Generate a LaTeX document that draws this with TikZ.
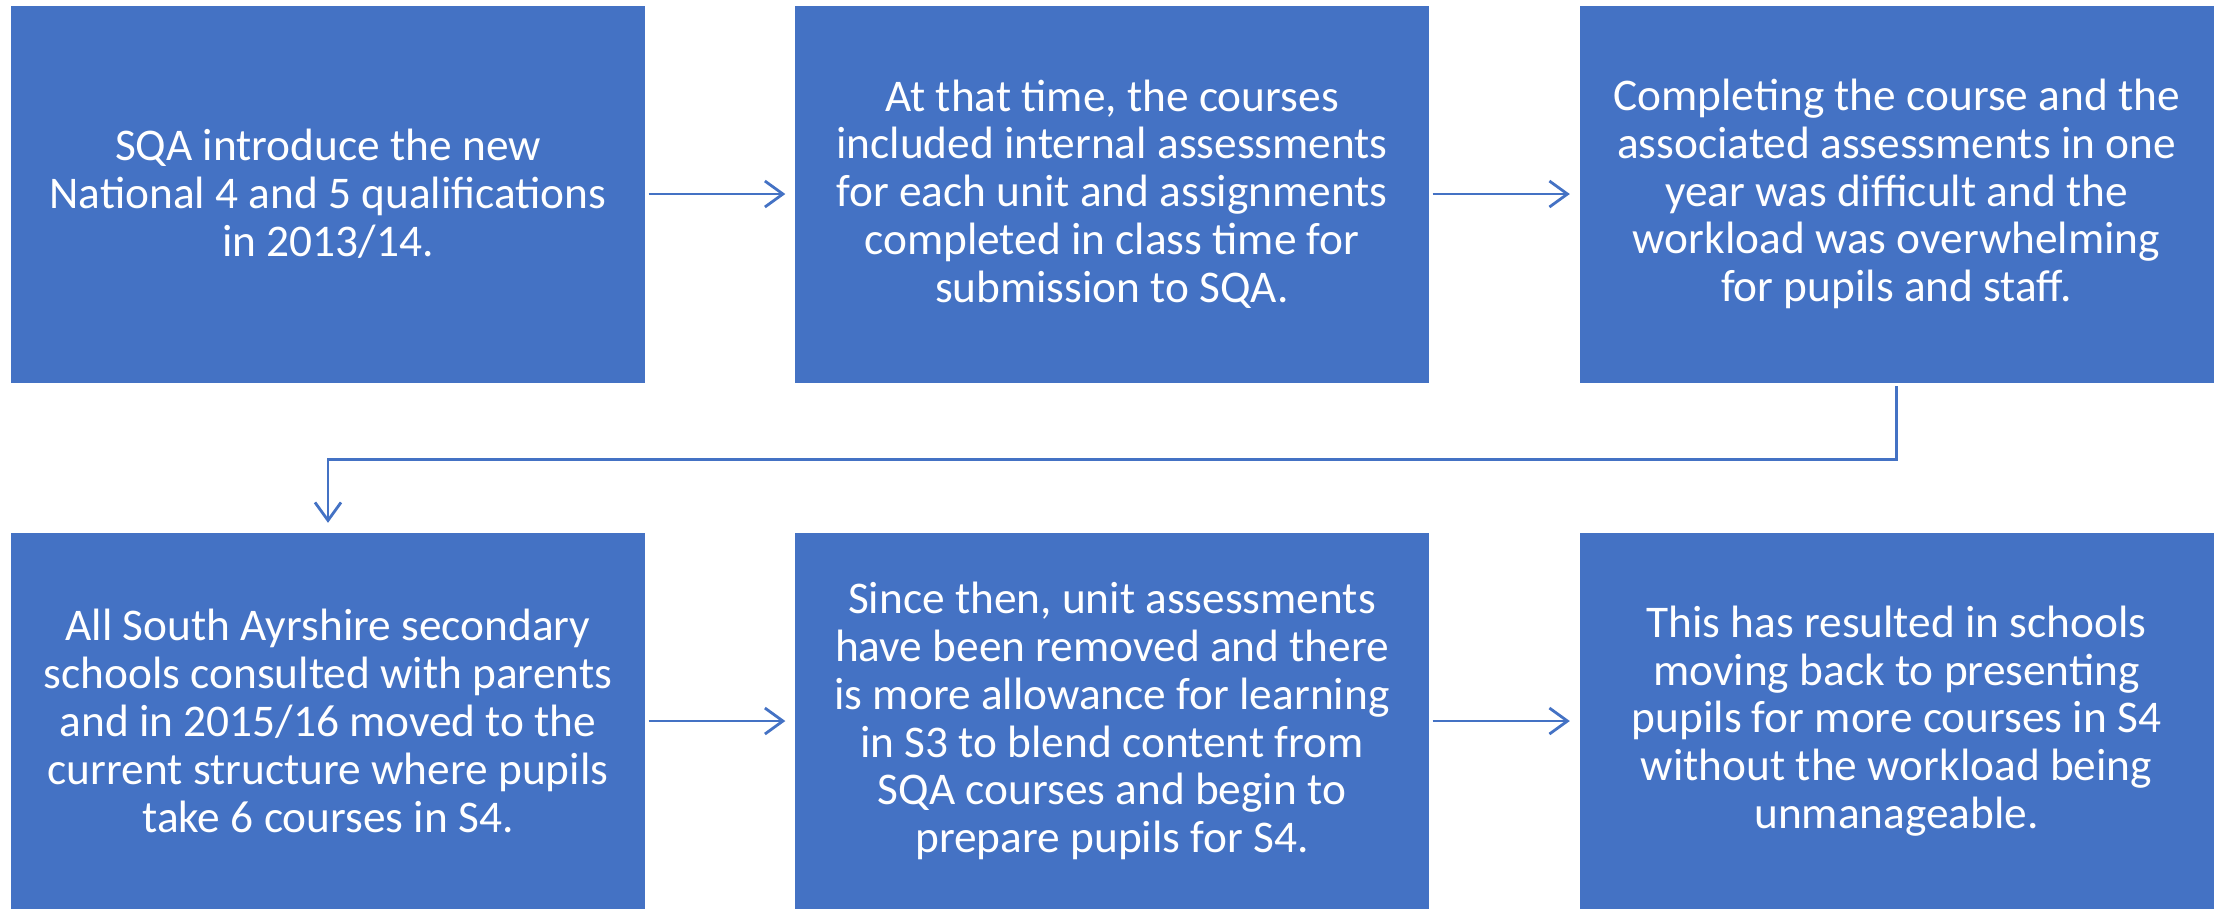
\documentclass[tikz,border=0pt]{standalone}
\usepackage{fontspec}
\setmainfont{Carlito}
\usetikzlibrary{arrows.meta}
\definecolor{boxblue}{HTML}{4472C4}
\tikzset{
    stage/.style={fill=boxblue, text=white, minimum width=6.34cm, minimum height=3.77cm,
        inner sep=0pt, align=center, font=\fontsize{12.9}{13.6}\selectfont},
    link/.style={draw=boxblue, line width=0.8pt, -{Straight Barb[length=0.18cm, width=0.26cm]},
        shorten <=0.03cm, shorten >=0.09cm}
}
\begin{document}
\begin{tikzpicture}
    \useasboundingbox (0, 0) rectangle (22.18, -9.08);

    \node [stage] (intro) at (3.28, -1.94) {SQA introduce the new\\National 4 and 5 qualifications\\in 2013/14.};
    \node [stage] (internal) at (11.12, -1.94) {At that time, the courses\\included internal assessments\\for each unit and assignments\\completed in class time for\\submission to SQA.};
    \node [stage] (workload) at (18.965, -1.94) {Completing the course and the\\associated assessments in one\\year was difficult and the\\workload was overwhelming\\for pupils and staff.};

    \node [stage] (consult) at (3.28, -7.21) {All South Ayrshire secondary\\schools consulted with parents\\and in 2015/16 moved to the\\current structure where pupils\\take 6 courses in S4.};
    \node [stage] (removed) at (11.12, -7.21) {Since then, unit assessments\\have been removed and there\\is more allowance for learning\\in S3 to blend content from\\SQA courses and begin to\\prepare pupils for S4.};
    \node [stage] (result) at (18.965, -7.21) {This has resulted in schools\\moving back to presenting\\pupils for more courses in S4\\without the workload being\\unmanageable.};

    \draw [link] (intro) -- (internal);
    \draw [link] (internal) -- (workload);
    \draw [link] (workload.south) -- ++(0, -0.76) -| (consult.north);
    \draw [link] (consult) -- (removed);
    \draw [link] (removed) -- (result);
\end{tikzpicture}
\end{document}
